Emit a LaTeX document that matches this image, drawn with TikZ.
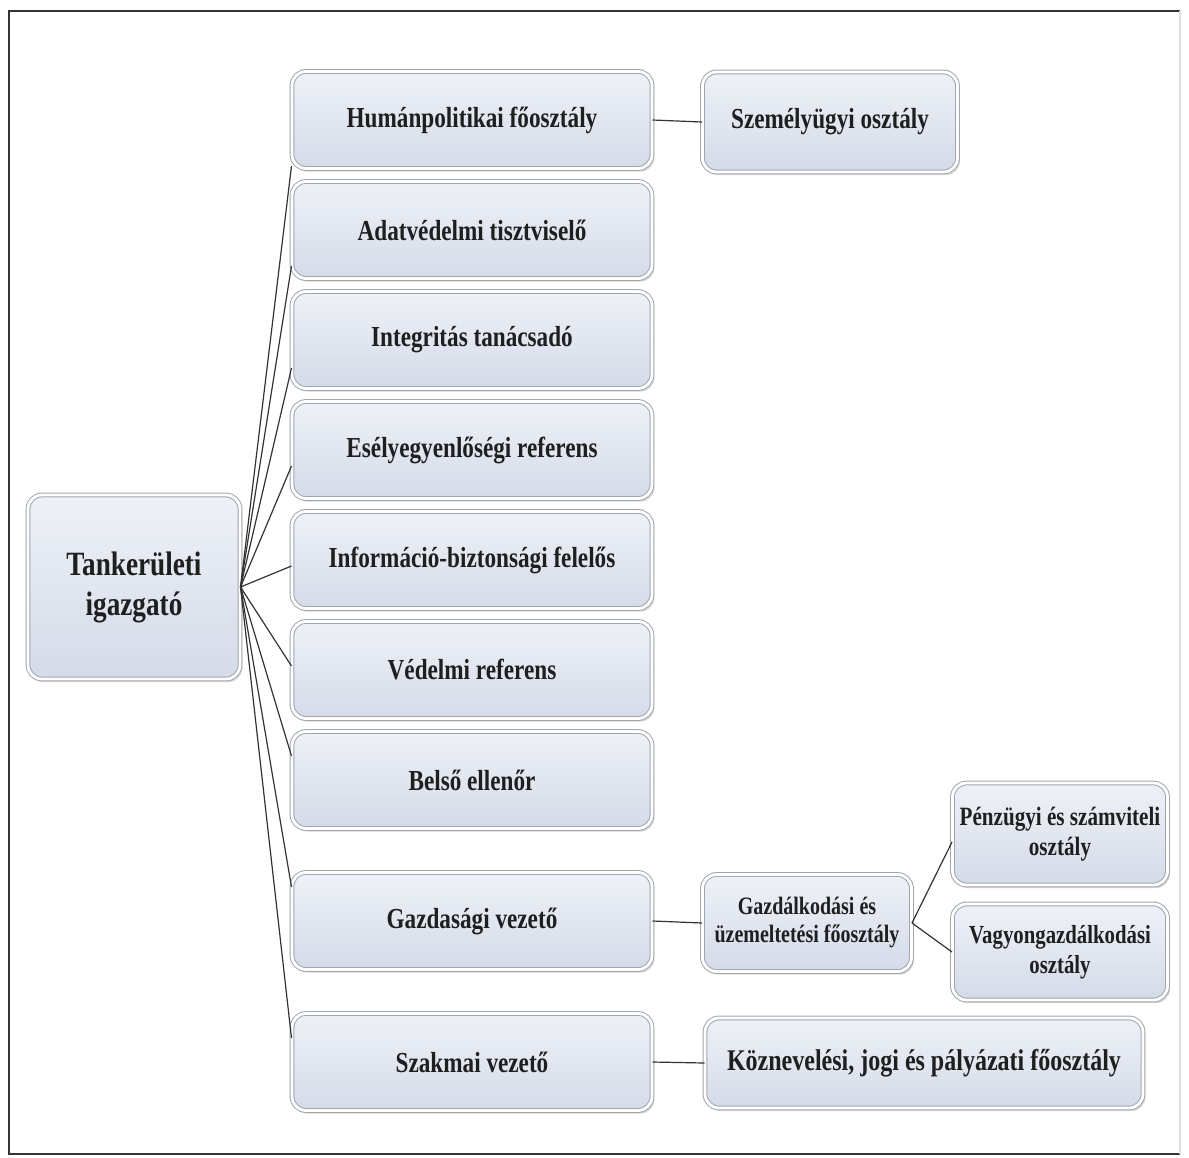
\documentclass[tikz,border=0pt]{standalone}
\usepackage{fontspec}
\setmainfont{Liberation Serif}[FakeStretch=0.8]
\usetikzlibrary{shadows}
\definecolor{boxtop}{RGB}{238,241,247}
\definecolor{boxbot}{RGB}{212,219,232}
\definecolor{boxline}{RGB}{160,166,176}
\newcommand{\orgFont}[2]{\fontsize{#1}{#2}\selectfont\bfseries}

\begin{document}
\begin{tikzpicture}[x=0.5pt,y=-0.5pt,
  orgbox/.style={rounded corners=7pt, draw=boxline, line width=0.5pt, double=white, double distance=1.4pt,
    top color=boxtop, bottom color=boxbot, align=center, inner sep=0pt, text=black!88,
    drop shadow={opacity=0.3, shadow xshift=1.2pt, shadow yshift=-1.6pt}},
  link/.style={draw=black!80, line width=0.6pt}]
\useasboundingbox (0,0) rectangle (1189,1157);
% outer frame
\draw[black!80, line width=1.4pt] (1180,11) -- (9,11) -- (9,1154) -- (1180,1154);
\draw[gray!25, line width=0.6pt] (1180,11) -- (1180,1154);
% root
\node[orgbox, minimum width=106pt, minimum height=92pt, font=\orgFont{17}{20}] (root) at (134,587) {Tankerületi\\igazgató};
% first column
\node[orgbox, minimum width=180pt, minimum height=48.5pt, font=\orgFont{14.5}{17}] (hum) at (472,120) {Humánpolitikai főosztály};
\node[orgbox, minimum width=180pt, minimum height=48.5pt, font=\orgFont{14.5}{17}] (adat) at (472,230) {Adatvédelmi tisztviselő};
\node[orgbox, minimum width=180pt, minimum height=48.5pt, font=\orgFont{14.5}{17}] (integ) at (472,340) {Integritás tanácsadó};
\node[orgbox, minimum width=180pt, minimum height=48.5pt, font=\orgFont{14.5}{17}] (esely) at (472,450) {Esélyegyenlőségi referens};
\node[orgbox, minimum width=180pt, minimum height=48.5pt, font=\orgFont{14.5}{17}] (info) at (472,560) {Információ-biztonsági felelős};
\node[orgbox, minimum width=180pt, minimum height=48.5pt, font=\orgFont{14.5}{17}] (vedelmi) at (472,670) {Védelmi referens};
\node[orgbox, minimum width=180pt, minimum height=48.5pt, font=\orgFont{14.5}{17}] (belso) at (472,780) {Belső ellenőr};
\node[orgbox, minimum width=180pt, minimum height=48.5pt, font=\orgFont{14.5}{17}] (gazd) at (472,921) {Gazdasági vezető};
\node[orgbox, minimum width=180pt, minimum height=48.5pt, font=\orgFont{14.5}{17}] (szakmai) at (472,1062) {Szakmai vezető};
% second level
\node[orgbox, minimum width=127.5pt, minimum height=50pt, font=\orgFont{14.5}{17}] (szemely) at (830,122) {Személyügyi osztály};
\node[orgbox, minimum width=104.5pt, minimum height=48.5pt, font=\orgFont{12.5}{14}] (gazdfo) at (807,923) {Gazdálkodási és\\üzemeltetési főosztály};
\node[orgbox, minimum width=107.5pt, minimum height=51pt, font=\orgFont{13.2}{15}] (penz) at (1060,834) {Pénzügyi és számviteli\\osztály};
\node[orgbox, minimum width=107.5pt, minimum height=48pt, font=\orgFont{13}{15}] (vagyon) at (1060,952) {Vagyongazdálkodási\\osztály};
\node[orgbox, minimum width=219pt, minimum height=45pt, font=\orgFont{15}{17}] (koznev) at (924,1063) {Köznevelési, jogi és pályázati főosztály};
% connectors
\draw[link] (root.east) -- ([yshift=-23pt]hum.west);
\draw[link] (root.east) -- ([yshift=-18pt]adat.west);
\draw[link] (root.east) -- ([yshift=-14pt]integ.west);
\draw[link] (root.east) -- ([yshift=-8pt]esely.west);
\draw[link] (root.east) -- ([yshift=-3pt]info.west);
\draw[link] (root.east) -- ([yshift=2pt]vedelmi.west);
\draw[link] (root.east) -- ([yshift=12pt]belso.west);
\draw[link] (root.east) -- ([yshift=17pt]gazd.west);
\draw[link] (root.east) -- ([yshift=12pt]szakmai.west);
\draw[link] (hum.east) -- (szemely.west);
\draw[link] (gazd.east) -- (gazdfo.west);
\draw[link] (gazdfo.east) -- ([yshift=-4pt]penz.west);
\draw[link] (gazdfo.east) -- (vagyon.west);
\draw[link] (szakmai.east) -- (koznev.west);
\end{tikzpicture}
\end{document}
